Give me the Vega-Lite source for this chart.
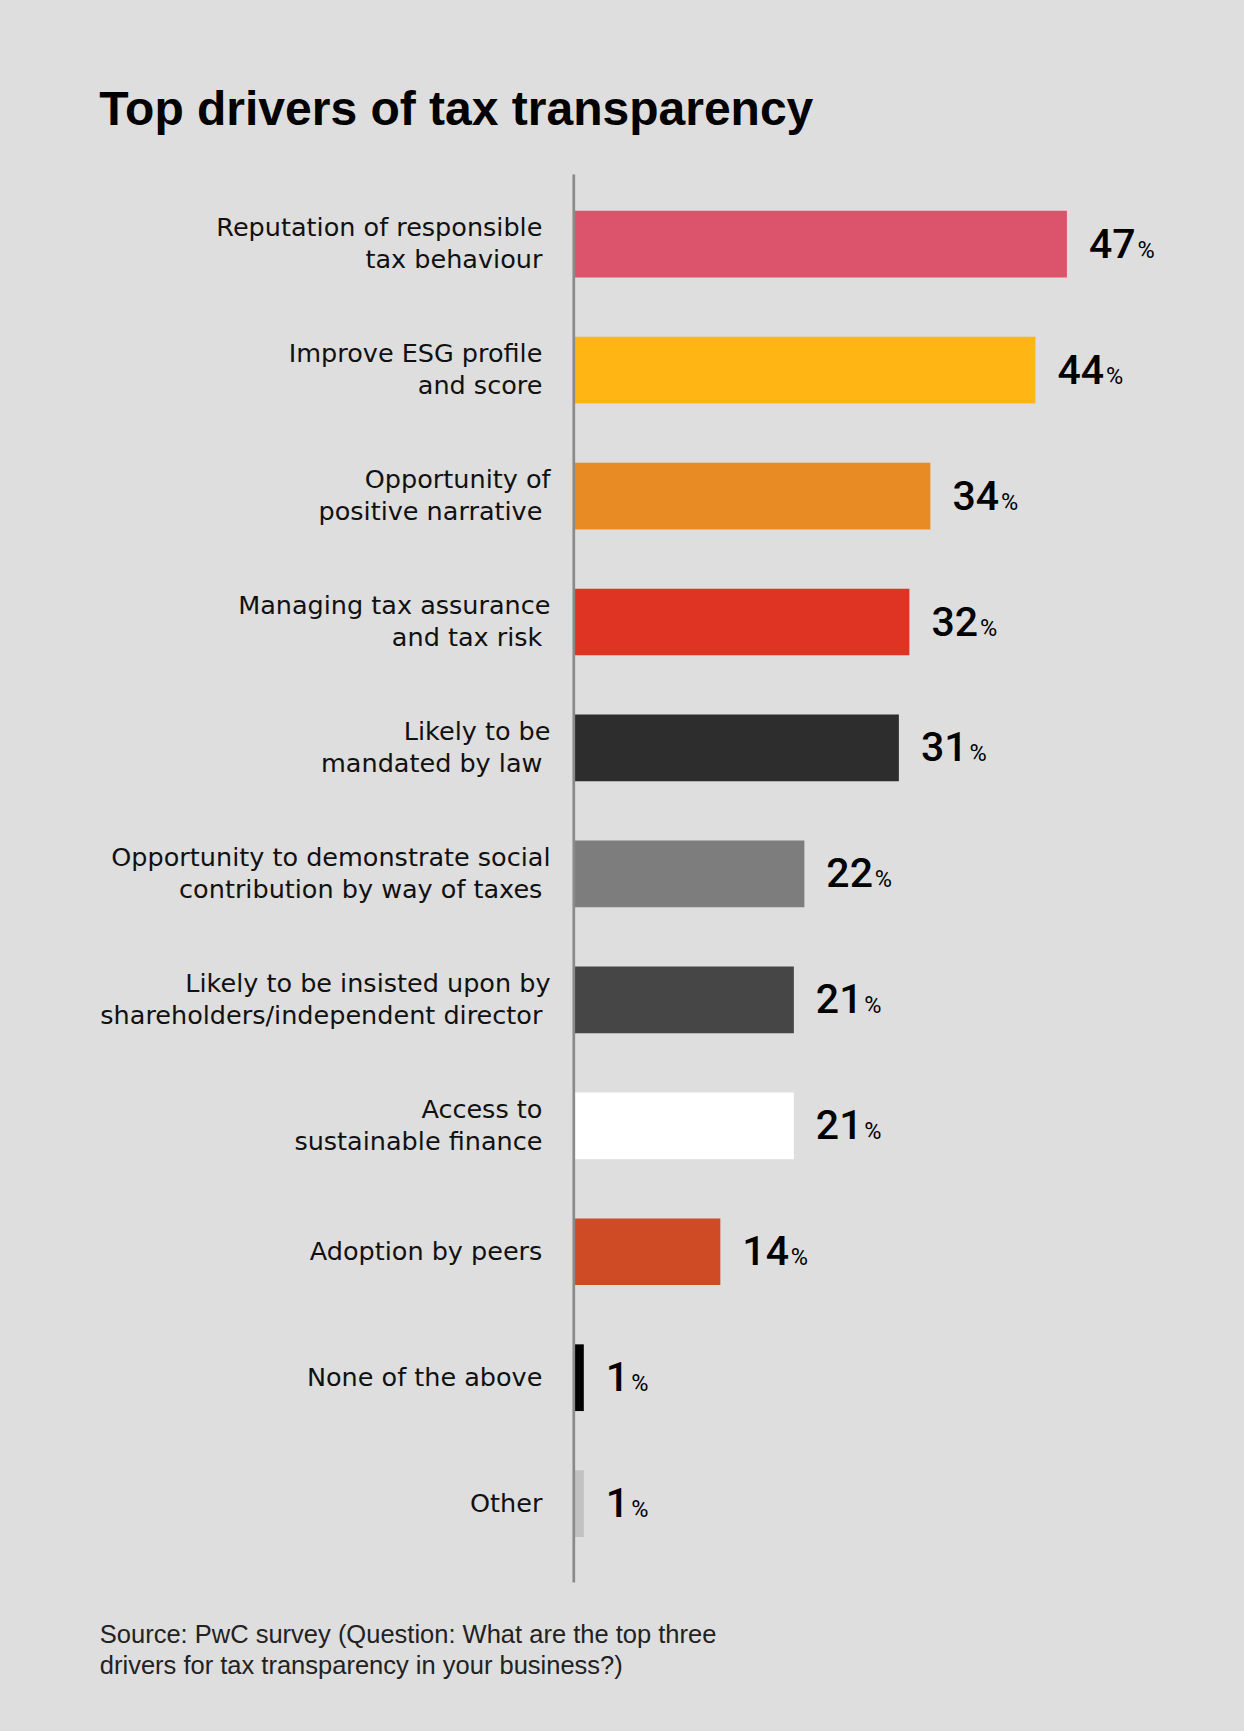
{
  "$schema": "https://vega.github.io/schema/vega-lite/v6.json",
  "width": 627,
  "height": 1408,
  "autosize": {"type": "none"},
  "padding": {"left": 573.3, "top": 174, "right": 43.7, "bottom": 149},
  "background": "#dedede",
  "config": {"view": {"stroke": null}},
  "title": {
    "text": "Top drivers of tax transparency",
    "anchor": "start",
    "frame": "group",
    "orient": "top",
    "dx": -474,
    "offset": 1,
    "baseline": "alphabetic",
    "font": "Liberation Sans",
    "fontSize": 48,
    "fontWeight": "bold",
    "color": "#000000"
  },
  "data": {
    "values": [
      {"driver": "Reputation of responsible\u00a0\u200b|tax behaviour\u00a0\u200b", "value": 47},
      {"driver": "Improve ESG profile\u00a0\u200b|and score\u00a0\u200b", "value": 44},
      {"driver": "Opportunity of|positive narrative\u00a0\u200b", "value": 34},
      {"driver": "Managing tax assurance|and tax risk\u00a0\u200b", "value": 32},
      {"driver": "Likely to be|mandated by law\u00a0\u200b", "value": 31},
      {"driver": "Opportunity to demonstrate social|contribution by way of taxes\u00a0\u200b", "value": 22},
      {"driver": "Likely to be insisted upon by|shareholders/independent director\u00a0\u200b", "value": 21},
      {"driver": "Access to\u00a0\u200b|sustainable finance\u00a0\u200b", "value": 21},
      {"driver": "Adoption by peers\u00a0\u200b", "value": 14},
      {"driver": "None of the above\u00a0\u200b", "value": 1},
      {"driver": "Other\u00a0\u200b", "value": 1}
    ]
  },
  "encoding": {
    "y": {
      "field": "driver",
      "type": "nominal",
      "sort": null,
      "scale": {"paddingInner": 0.4703, "paddingOuter": 0.3248, "align": 0.45},
      "axis": {
        "title": null,
        "labelExpr": "split(datum.label, '|')",
        "labelFont": "DejaVu Sans",
        "labelFontSize": 25.5,
        "labelColor": "#111111",
        "labelLineHeight": 32.3,
        "labelPadding": 23.3,
        "labelOffset": {"condition": {"test": "indexof(datum.value, '|') >= 0", "value": -16}, "value": 0},
        "labelLimit": 0,
        "labelAlign": "right",
        "labelBaseline": "middle",
        "ticks": false,
        "tickSize": 0,
        "grid": false,
        "domainColor": "#8a8a8a",
        "domainWidth": 2.7,
        "zindex": 1
      }
    },
    "x": {
      "field": "value",
      "type": "quantitative",
      "scale": {"domain": [0, 59.7]},
      "axis": {
        "title": ["Source: PwC survey (Question: What are the top three", "drivers for tax transparency in your business?)"],
        "labels": false,
        "ticks": false,
        "domain": false,
        "grid": false,
        "titleFont": "Liberation Sans",
        "titleFontSize": 25.5,
        "titleFontWeight": "normal",
        "titleColor": "#222222",
        "titleLineHeight": 31.7,
        "titleAnchor": "start",
        "titleAlign": "left",
        "titleBaseline": "alphabetic",
        "titleX": -474,
        "titleY": 60.3
      }
    }
  },
  "layer": [
    {
      "mark": {"type": "bar"},
      "encoding": {
        "color": {
          "field": "driver",
          "type": "nominal",
          "legend": null,
          "scale": {
            "domain": [
              "Reputation of responsible\u00a0\u200b|tax behaviour\u00a0\u200b",
              "Improve ESG profile\u00a0\u200b|and score\u00a0\u200b",
              "Opportunity of|positive narrative\u00a0\u200b",
              "Managing tax assurance|and tax risk\u00a0\u200b",
              "Likely to be|mandated by law\u00a0\u200b",
              "Opportunity to demonstrate social|contribution by way of taxes\u00a0\u200b",
              "Likely to be insisted upon by|shareholders/independent director\u00a0\u200b",
              "Access to\u00a0\u200b|sustainable finance\u00a0\u200b",
              "Adoption by peers\u00a0\u200b",
              "None of the above\u00a0\u200b",
              "Other\u00a0\u200b"
            ],
            "range": ["#dc546b", "#ffb615", "#e98b25", "#df3324", "#2d2d2d", "#7d7d7d", "#464646", "#ffffff", "#cf4b26", "#000000", "#c1c1c1"]
          }
        }
      }
    },
    {
      "mark": {"type": "text", "align": "left", "baseline": "alphabetic", "dx": 22, "dy": 13.5, "font": "Roboto", "fontSize": 41, "fontWeight": 500, "color": "#000000"},
      "encoding": {
        "text": {"field": "value", "type": "quantitative"}
      }
    },
    {
      "transform": [{"filter": "datum.value >= 10"}],
      "mark": {"type": "text", "align": "left", "baseline": "alphabetic", "dx": 70.5, "dy": 13.5, "font": "Roboto", "fontSize": 23.5, "color": "#000000"},
      "encoding": {
        "text": {"value": "%"}
      }
    },
    {
      "transform": [{"filter": "datum.value < 10"}],
      "mark": {"type": "text", "align": "left", "baseline": "alphabetic", "dx": 47.5, "dy": 13.5, "font": "Roboto", "fontSize": 23.5, "color": "#000000"},
      "encoding": {
        "text": {"value": "%"}
      }
    }
  ]
}
